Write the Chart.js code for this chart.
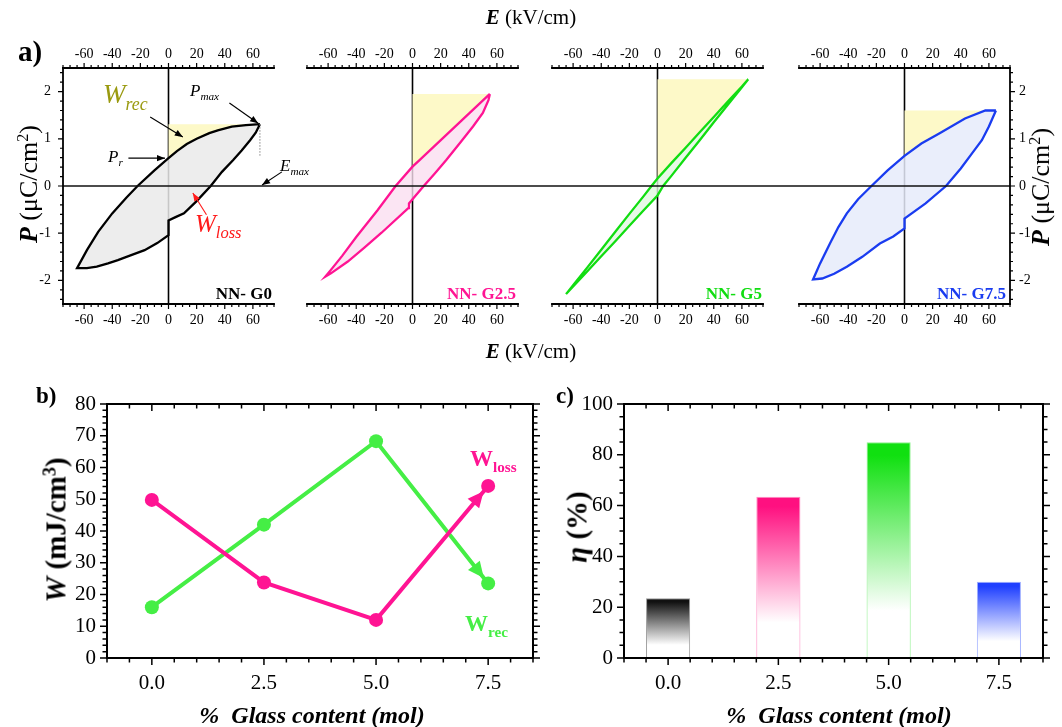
<!DOCTYPE html>
<html>
<head>
<meta charset="utf-8">
<script src="https://cdn.jsdelivr.net/npm/chart.js@4.4.1/dist/chart.umd.min.js"></script>
<style>
  body { margin: 0; background: #fff; }
  #fig { position: relative; width: 1062px; height: 727px; overflow: hidden; font-family: 'Liberation Serif', 'Times New Roman', serif; color: #000; }
  #fig canvas { position: absolute; }
  .t { position: absolute; white-space: nowrap; line-height: 1; }
  .rot { transform: translate(-50%, -50%) rotate(-90deg); }
  .sb { font-size: 0.66em; position: relative; top: 0.38em; }
  .sp { font-size: 0.62em; position: relative; top: -0.55em; }
</style>
</head>
<body>
<div id="fig">
  <canvas id="a1" width="290" height="340" style="left:0;top:0"></canvas>
  <canvas id="a2" width="245" height="340" style="left:290px;top:0"></canvas>
  <canvas id="a3" width="246" height="340" style="left:535px;top:0"></canvas>
  <canvas id="a4" width="281" height="340" style="left:781px;top:0"></canvas>
  <canvas id="cb" width="540" height="357" style="left:0;top:370px"></canvas>
  <canvas id="cc" width="522" height="357" style="left:540px;top:370px"></canvas>

  <!-- panel a titles -->
  <div class="t" style="left:531px;top:7px;font-size:21px;transform:translateX(-50%)"><b><i>E</i></b> (kV/cm)</div>
  <div class="t" style="left:531px;top:341px;font-size:21px;transform:translateX(-50%)"><b><i>E</i></b> (kV/cm)</div>
  <div class="t" style="left:18px;top:37px;font-size:29px;font-weight:bold">a)</div>
  <div class="t rot" style="left:29px;top:184px;font-size:26px"><b><i>P</i></b> (μC/cm<span class="sp">2</span>)</div>
  <div class="t rot" style="left:1041px;top:187px;font-size:26px"><b><i>P</i></b> (μC/cm<span class="sp">2</span>)</div>

  <!-- panel a notes -->
  <div class="t" style="left:103px;top:81px;font-size:27px;font-style:italic;color:#9a9a10">W<span class="sb">rec</span></div>
  <div class="t" style="left:190px;top:82px;font-size:17px;font-style:italic">P<span class="sb">max</span></div>
  <div class="t" style="left:108px;top:148px;font-size:17px;font-style:italic">P<span class="sb">r</span></div>
  <div class="t" style="left:280px;top:157px;font-size:17px;font-style:italic">E<span class="sb">max</span></div>
  <div class="t" style="left:195px;top:211px;font-size:25px;font-style:italic;color:#ff1a1a">W<span class="sb">loss</span></div>
  <div class="t" style="right:790px;top:285px;font-size:17px;font-weight:bold">NN- G0</div>
  <div class="t" style="right:546px;top:285px;font-size:17px;font-weight:bold;color:#ff1493">NN- G2.5</div>
  <div class="t" style="right:300px;top:285px;font-size:17px;font-weight:bold;color:#11dd11">NN- G5</div>
  <div class="t" style="right:56px;top:285px;font-size:17px;font-weight:bold;color:#1a3cf0">NN- G7.5</div>

  <!-- panel b/c titles -->
  <div class="t" style="left:36px;top:384px;font-size:23px;font-weight:bold">b)</div>
  <div class="t" style="left:556px;top:384px;font-size:23px;font-weight:bold">c)</div>
  <div class="t rot" style="left:56px;top:530px;font-size:29px;font-weight:bold"><i>W</i> (mJ/cm<span class="sp">3</span>)</div>
  <div class="t rot" style="left:577px;top:527px;font-size:29px;font-weight:bold"><i>η</i> (%)</div>
  <div class="t" style="left:312px;top:703px;font-size:24px;font-weight:bold;font-style:italic;transform:translateX(-50%)">%&nbsp; Glass content (mol)</div>
  <div class="t" style="left:839px;top:703px;font-size:24px;font-weight:bold;font-style:italic;transform:translateX(-50%)">%&nbsp; Glass content (mol)</div>
  <div class="t" style="left:470px;top:447px;font-size:23px;font-weight:bold;color:#ff1493">W<span class="sb">loss</span></div>
  <div class="t" style="left:465px;top:612px;font-size:23px;font-weight:bold;color:#45ee45">W<span class="sb">rec</span></div>
</div>

<script>
// ---------- data ----------
const eTicks = [-60, -40, -20, 0, 20, 40, 60];
const pTicks = [-2, -1, 0, 1, 2];

// NN-G0  (upper branch runs +Emax -> -Emax, lower branch back)
const g0UpE = [65, 55, 45, 35, 29, 20, 13, 6, 0, -10, -22, -30, -40, -50, -58, -65];
const g0UpP = [1.31, 1.29, 1.26, 1.18, 1.12, 1.00, 0.89, 0.74, 0.59, 0.33, 0.00, -0.25, -0.58, -0.97, -1.36, -1.74];
const g0LoE = [-65, -58, -51, -43, -36, -27, -17, -8, 0, 0, 5, 11, 20, 30, 38, 46, 52, 58, 62, 65];
const g0LoP = [-1.74, -1.74, -1.71, -1.64, -1.57, -1.47, -1.36, -1.21, -1.04, -0.73, -0.66, -0.58, -0.32, 0.00, 0.30, 0.55, 0.75, 0.97, 1.13, 1.31];

// NN-G2.5
const g25UpE = [55, 45, 35, 25, 15, 5, 0, -12, -25, -40, -50, -57, -62];
const g25UpP = [1.95, 1.67, 1.39, 1.11, 0.83, 0.55, 0.41, 0.00, -0.52, -1.08, -1.48, -1.74, -1.92];
const g25LoE = [-62, -58, -46, -34, -22, -3, -2.5, 0, 8, 16, 24, 34, 43, 50, 54, 55];
const g25LoP = [-1.92, -1.85, -1.60, -1.30, -0.99, -0.47, -0.37, -0.28, 0.00, 0.27, 0.55, 0.92, 1.26, 1.55, 1.82, 1.95];

// NN-G5
const g5UpE = [64.5, 60, 50, 40, 30, 20, 10, 0, -4, -10, -20, -30, -40, -50, -60, -65];
const g5UpP = [2.26, 2.11, 1.79, 1.46, 1.14, 0.81, 0.49, 0.16, 0.01, -0.22, -0.59, -0.97, -1.35, -1.73, -2.10, -2.29];
const g5LoE = [-65, -60, -50, -40, -30, -20, -10, 0, 4, 10, 20, 30, 40, 50, 60, 64.5];
const g5LoP = [-2.29, -2.13, -1.81, -1.49, -1.17, -0.84, -0.52, -0.20, 0.00, 0.22, 0.60, 0.97, 1.35, 1.72, 2.09, 2.26];

// NN-G7.5
const g75UpE = [65, 57.5, 43, 25, 12, 0, -12, -23.5, -33, -41, -47, -53, -60, -65];
const g75UpP = [1.60, 1.60, 1.43, 1.12, 0.90, 0.64, 0.33, 0.00, -0.28, -0.58, -0.87, -1.22, -1.64, -1.98];
const g75LoE = [-65, -58.5, -50, -41, -30, -17.5, -8, 0, 0, 15, 29.5, 40, 48, 55, 60, 65];
const g75LoP = [-1.98, -1.96, -1.86, -1.71, -1.50, -1.22, -1.07, -0.90, -0.69, -0.37, 0.00, 0.37, 0.69, 0.97, 1.26, 1.60];

// panel b / c
const glass = [0, 2.5, 5, 7.5];
const glassTicks = [0, 2.5, 5, 7.5];
const wRec = [16, 42, 68.3, 23.5];
const wLoss = [49.8, 23.8, 12, 54.2];
const wTicks = [0, 10, 20, 30, 40, 50, 60, 70, 80];
const eta = [23.5, 63.5, 84.9, 30];
const etaTicks = [0, 20, 40, 60, 80, 100];

// annotation arrows of NN-G0 (E, P)
const g0Arrows = [
  { from: [-13, 1.46], to: [10.2, 1.04], color: '#000' },
  { from: [43.3, 1.76], to: [63.7, 1.33], color: '#000' },
  { from: [-28.5, 0.59], to: [-2.5, 0.59], color: '#000' },
  { from: [80.6, 0.30], to: [66.5, 0.02], color: '#000' },
  { from: [27, -0.61], to: [17.3, -0.15], color: '#ff1a1a' }
];

// ---------- helpers ----------
const FONT = "'Liberation Serif', 'Times New Roman', serif";
const pts = (xs, ys) => xs.map((x, i) => ({ x, y: ys[i] }));
const range = (a, b, s) => {
  const out = [];
  for (let v = a; v <= b + 1e-9; v += s) out.push(+v.toFixed(4));
  return out;
};

function arrowHead(ctx, x1, y1, x2, y2, len, hw) {
  const d = Math.hypot(x2 - x1, y2 - y1), ux = (x2 - x1) / d, uy = (y2 - y1) / d;
  const bx = x2 - ux * len, by = y2 - uy * len;
  ctx.beginPath();
  ctx.moveTo(x2, y2);
  ctx.lineTo(bx - uy * hw, by + ux * hw);
  ctx.lineTo(bx + uy * hw, by - ux * hw);
  ctx.closePath();
  ctx.fill();
}

// frame lines and tick marks, placed through the chart's scales
const axesBox = {
  id: 'axesBox',
  afterDatasetsDraw(chart, args, o) {
    const { ctx, chartArea: a } = chart;
    ctx.save();
    ctx.strokeStyle = '#000';
    o.sides.forEach(sd => {
      const sc = chart.scales[sd.scale];
      const pos = a[sd.side];
      const horiz = sd.side === 'top' || sd.side === 'bottom';
      const sign = (sd.side === 'top' || sd.side === 'left' ? -1 : 1) * (sd.inward ? -1 : 1);
      ctx.lineWidth = o.lineWidth;
      ctx.lineCap = 'square';
      ctx.beginPath();
      if (horiz) { ctx.moveTo(a.left, pos); ctx.lineTo(a.right, pos); }
      else { ctx.moveTo(pos, a.top); ctx.lineTo(pos, a.bottom); }
      ctx.stroke();
      ctx.lineWidth = o.tickWidth;
      ctx.lineCap = 'butt';
      ctx.beginPath();
      const mark = (v, len) => {
        const p = sc.getPixelForValue(v);
        if (horiz) { ctx.moveTo(p, pos); ctx.lineTo(p, pos + sign * len); }
        else { ctx.moveTo(pos, p); ctx.lineTo(pos + sign * len, p); }
      };
      sd.minors.forEach(v => mark(v, o.minLen));
      sd.majors.forEach(v => mark(v, o.majLen));
      ctx.stroke();
    });
    ctx.restore();
  }
};

// E = 0 and P = 0 lines of the loop panels
const zeroLines = {
  id: 'zeroLines',
  beforeDatasetsDraw(chart) {
    const { ctx, chartArea: a, scales } = chart;
    const x0 = scales.x.getPixelForValue(0);
    ctx.save();
    ctx.strokeStyle = '#000';
    ctx.lineWidth = 1.6;
    ctx.beginPath();
    ctx.moveTo(x0, a.top);
    ctx.lineTo(x0, a.bottom);
    ctx.stroke();
    ctx.restore();
  },
  afterDatasetsDraw(chart, args, o) {
    const { ctx, chartArea: a, scales } = chart;
    const y0 = scales.y.getPixelForValue(0);
    ctx.save();
    ctx.strokeStyle = '#111';
    ctx.lineWidth = 1.3;
    ctx.beginPath();
    ctx.moveTo(o.fromArea ? a.left : 0, y0);
    ctx.lineTo(o.toArea ? a.right : chart.width, y0);
    ctx.stroke();
    ctx.restore();
  }
};

// arrows + E_max guide of the first loop
const g0Notes = {
  id: 'g0Notes',
  afterDatasetsDraw(chart, args, o) {
    if (!o.show) return;
    const { ctx, scales: { x, y } } = chart;
    ctx.save();
    const em = g0UpE[0], pm = g0UpP[0];
    ctx.strokeStyle = '#888';
    ctx.lineWidth = 1;
    ctx.setLineDash([1.5, 1.5]);
    ctx.beginPath();
    ctx.moveTo(x.getPixelForValue(em), y.getPixelForValue(pm));
    ctx.lineTo(x.getPixelForValue(em), y.getPixelForValue(0.62));
    ctx.stroke();
    ctx.setLineDash([]);
    g0Arrows.forEach(ar => {
      const x1 = x.getPixelForValue(ar.from[0]), y1 = y.getPixelForValue(ar.from[1]);
      const x2 = x.getPixelForValue(ar.to[0]), y2 = y.getPixelForValue(ar.to[1]);
      ctx.strokeStyle = ar.color;
      ctx.fillStyle = ar.color;
      ctx.lineWidth = 1.1;
      ctx.beginPath();
      ctx.moveTo(x1, y1);
      ctx.lineTo(x2, y2);
      ctx.stroke();
      arrowHead(ctx, x1, y1, x2, y2, 8, 3.2);
    });
    ctx.restore();
  }
};

// arrow head on the last segment of each series (panel b)
const endArrows = {
  id: 'endArrows',
  afterDatasetsDraw(chart) {
    const { ctx } = chart;
    ctx.save();
    chart.data.datasets.forEach((ds, i) => {
      const els = chart.getDatasetMeta(i).data;
      const p1 = els[els.length - 2], p2 = els[els.length - 1];
      const d = Math.hypot(p2.x - p1.x, p2.y - p1.y);
      const r = ds.pointRadius;
      const tx = p2.x - (p2.x - p1.x) / d * r, ty = p2.y - (p2.y - p1.y) / d * r;
      ctx.fillStyle = ds.borderColor;
      arrowHead(ctx, p1.x, p1.y, tx, ty, 16, 7.5);
    });
    ctx.restore();
  }
};

const tickFont = size => ({ family: FONT, size });

function eAxis(position, height, padding) {
  return {
    type: 'linear', position, min: -75, max: 75,
    afterBuildTicks: s => { s.ticks = eTicks.map(v => ({ value: v })); },
    afterFit: s => { s.height = height; },
    grid: { display: false, drawTicks: false },
    border: { display: false },
    ticks: { padding, color: '#000', font: tickFont(14), maxRotation: 0, autoSkip: false }
  };
}

function loopChart(id, s) {
  const loop = pts(s.upE.concat(s.loE), s.upP.concat(s.loP));
  const pos = s.upE.map((e, i) => i).filter(i => s.upE[i] >= 0);
  const rec = pos.map(i => ({ x: s.upE[i], y: s.upP[i] })).concat([{ x: 0, y: s.upP[0] }]);
  const sides = [
    { side: 'top', scale: 'x2', majors: eTicks, minors: range(-75, 75, 5) },
    { side: 'bottom', scale: 'x', majors: eTicks, minors: range(-75, 75, 5) }
  ];
  if (s.yPos) sides.push({ side: s.yPos, scale: 'y', majors: pTicks, minors: range(-2.4, 2.4, 0.2) });
  const yAxis = s.yPos ? {
    type: 'linear', min: -2.5, max: 2.5, position: s.yPos,
    afterBuildTicks: sc => { sc.ticks = pTicks.map(v => ({ value: v })); },
    afterFit: sc => { sc.width = s.yWidth; },
    grid: { display: false, drawTicks: false },
    border: { display: false },
    ticks: { padding: s.yPad, color: '#000', font: tickFont(14) }
  } : { type: 'linear', min: -2.5, max: 2.5, display: false };
  return new Chart(document.getElementById(id), {
    type: 'line',
    data: {
      datasets: [
        { data: loop, xAxisID: 'x', yAxisID: 'y', borderColor: s.color, borderWidth: 2.3, backgroundColor: s.fill,
          fill: 'shape', pointRadius: 0, tension: 0 },
        { data: rec, xAxisID: 'x', yAxisID: 'y', borderWidth: 0, borderColor: 'rgba(0,0,0,0)', backgroundColor: '#fdf9c8',
          fill: 'shape', pointRadius: 0, tension: 0 }
      ]
    },
    options: {
      responsive: false, animation: false, events: [],
      layout: { padding: { left: s.padL, right: s.padR, top: 0, bottom: 0 } },
      plugins: {
        legend: { display: false }, tooltip: { enabled: false },
        axesBox: { sides, lineWidth: 1.8, tickWidth: 1.2, majLen: 5, minLen: 3 },
        zeroLines: { fromArea: s.fromArea, toArea: s.toArea },
        g0Notes: { show: !!s.notes }
      },
      scales: {
        x: eAxis('bottom', 36, 8),
        x2: eAxis('top', 68, 5),
        y: yAxis
      }
    },
    plugins: [zeroLines, axesBox, g0Notes]
  });
}

loopChart('a1', { upE: g0UpE, upP: g0UpP, loE: g0LoE, loP: g0LoP, color: '#000', fill: 'rgba(234,234,234,0.85)',
  padL: 0, padR: 16, yPos: 'left', yWidth: 63, yPad: 12, fromArea: true, toArea: false, notes: true });
loopChart('a2', { upE: g25UpE, upP: g25UpP, loE: g25LoE, loP: g25LoP, color: '#ff1493', fill: 'rgba(250,222,240,0.8)',
  padL: 17, padR: 17, fromArea: false, toArea: false });
loopChart('a3', { upE: g5UpE, upP: g5UpP, loE: g5LoE, loP: g5LoP, color: '#11dd11', fill: 'rgba(225,248,225,0.8)',
  padL: 17, padR: 18, fromArea: false, toArea: false });
loopChart('a4', { upE: g75UpE, upP: g75UpP, loE: g75LoE, loP: g75LoP, color: '#1a3cf0', fill: 'rgba(230,235,250,0.85)',
  padL: 18, padR: 0, yPos: 'right', yWidth: 52, yPad: 9, fromArea: false, toArea: true });

// ---------- panel b / c ----------
function glassAxis(height) {
  return {
    type: 'linear', position: 'bottom', min: -1, max: 8.5, offset: false,
    afterBuildTicks: s => { s.ticks = glassTicks.map(v => ({ value: v })); },
    afterFit: s => { s.height = height; },
    grid: { display: false, drawTicks: false, offset: false },
    border: { display: false },
    ticks: { padding: 13, color: '#000', font: tickFont(21), maxRotation: 0, autoSkip: false,
      callback: v => v.toFixed(1) }
  };
}

function valueAxis(min, max, ticks, width) {
  return {
    type: 'linear', position: 'left', min, max,
    afterBuildTicks: s => { s.ticks = ticks.map(v => ({ value: v })); },
    afterFit: s => { s.width = width; },
    grid: { display: false, drawTicks: false },
    border: { display: false },
    ticks: { padding: 11, color: '#000', font: tickFont(21) }
  };
}

function boxSides(yTicks, yMinor) {
  const xm = range(-1, 8.5, 0.5);
  return [
    { side: 'bottom', scale: 'x', majors: glassTicks, minors: xm },
    { side: 'top', scale: 'x', majors: glassTicks, minors: xm, inward: true },
    { side: 'left', scale: 'y', majors: yTicks, minors: yMinor },
    { side: 'right', scale: 'y', majors: yTicks, minors: yMinor }
  ];
}

new Chart(document.getElementById('cb'), {
  type: 'line',
  data: {
    datasets: [
      { data: pts(glass, wLoss), borderColor: '#ff1493', backgroundColor: '#ff1493', borderWidth: 4,
        pointRadius: 7, pointBorderWidth: 0, pointBackgroundColor: '#ff1493', tension: 0 },
      { data: pts(glass, wRec), borderColor: '#45ee45', backgroundColor: '#45ee45', borderWidth: 4,
        pointRadius: 7, pointBorderWidth: 0, pointBackgroundColor: '#45ee45', tension: 0 }
    ]
  },
  options: {
    responsive: false, animation: false, events: [], clip: false,
    layout: { padding: { left: 0, right: 7, top: 34, bottom: 0 } },
    plugins: {
      legend: { display: false }, tooltip: { enabled: false },
      axesBox: { sides: boxSides(wTicks, range(0, 80, 2)), lineWidth: 2, tickWidth: 1.5, majLen: 7, minLen: 4.5 }
    },
    scales: { x: glassAxis(69), y: valueAxis(0, 80, wTicks, 107) }
  },
  plugins: [axesBox, endArrows]
});

const barColors = ['#111111', '#ff1080', '#10e010', '#2040ff'];
const barEdges = ['#9a9a9a', '#ff8cc4', '#8cf08c', '#a0b0ff'];

new Chart(document.getElementById('cc'), {
  type: 'bar',
  data: {
    datasets: [{
      data: pts(glass, eta),
      barPercentage: 0.4, categoryPercentage: 1,
      borderWidth: 1, borderColor: barEdges,
      backgroundColor: c => {
        const chart = c.chart, col = barColors[c.dataIndex];
        if (!chart.chartArea || c.type !== 'data') return col;
        const ys = chart.scales.y;
        const top = ys.getPixelForValue(eta[c.dataIndex]), bot = ys.getPixelForValue(0);
        const g = chart.ctx.createLinearGradient(0, top, 0, bot);
        g.addColorStop(0, col);
        g.addColorStop(0.06, col);
        g.addColorStop(0.78, '#ffffff');
        g.addColorStop(1, '#ffffff');
        return g;
      }
    }]
  },
  options: {
    responsive: false, animation: false, events: [],
    layout: { padding: { left: 0, right: 19, top: 34, bottom: 0 } },
    plugins: {
      legend: { display: false }, tooltip: { enabled: false },
      axesBox: { sides: boxSides(etaTicks, range(0, 100, 5)), lineWidth: 2, tickWidth: 1.5, majLen: 7, minLen: 4.5 }
    },
    scales: { x: glassAxis(69), y: valueAxis(0, 100, etaTicks, 84) }
  },
  plugins: [axesBox]
});
</script>
</body>
</html>
